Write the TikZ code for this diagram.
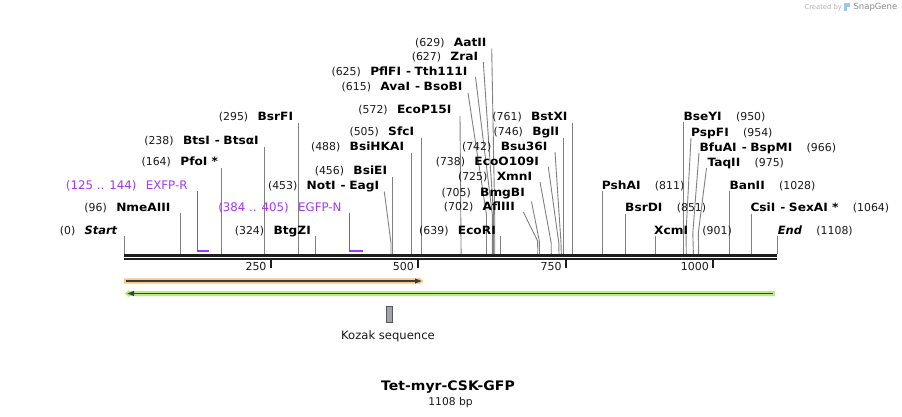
\documentclass[tikz,border=0pt]{standalone}
\usepackage{fontspec}
\setmainfont{DejaVu Sans}[BoldFeatures={FakeStretch=1.07},BoldItalicFeatures={FakeStretch=1.0}]
\definecolor{cutgray}{RGB}{128,128,128}
\definecolor{bbc}{RGB}{30,30,30}
\definecolor{primc}{RGB}{162,55,245}
\definecolor{orangef}{RGB}{250,200,125}
\definecolor{greenf}{RGB}{185,235,130}
\definecolor{featline}{RGB}{60,60,60}
\definecolor{kozakc}{RGB}{160,163,170}
\definecolor{snapblue}{RGB}{150,200,240}
\newcommand\EnzDash{\hspace{5pt}-\hspace{3.5pt}}
\newcommand\EnzL[5]{%
  \node[nm,anchor=base east] (#1) at (#2,#3) {#5};
  \node[num,anchor=base east] (#1n) at ([xshift=-9pt]#1.base west) {#4};}
\newcommand\EnzR[5]{%
  \node[nm,anchor=base west] (#1) at (#2,#3) {#4};
  \node[num,anchor=base west] (#1n) at ([xshift=14pt]#1.base east) {#5};}
\newcommand\VCut[3]{%
  \coordinate (#1t) at (#2,#3); \coordinate (#1c) at (#2,254);
  \draw[cutl] (#1t) -- (#1c);}
\newcommand\SCut[6]{%
  \coordinate (#1t) at (#2,#3); \coordinate (#1b) at (#4,#5); \coordinate (#1c) at (#6,254);
  \draw[cutl] (#1t) -- (#1b) -- (#1c);}
\begin{document}
\begin{tikzpicture}[x=1pt,y=-1pt,
  nm/.style={font=\fontsize{11.4}{13}\selectfont\bfseries,inner sep=0pt,text=black},
  num/.style={font=\fontsize{10.9}{13}\selectfont,inner sep=0pt,text=black!90},
  pnm/.style={font=\fontsize{11.8}{13}\selectfont,inner sep=0pt,text=primc},
  cutl/.style={draw=cutgray,line width=0.9pt},
  primline/.style={draw=primc,line width=1.2pt},
  ticklab/.style={font=\fontsize{11}{13}\selectfont,inner sep=0pt,text=black!90},
  bb/.style={fill=bbc}]
\fill[white] (0,0) rectangle (902,417);
\useasboundingbox (0,0) rectangle (902,417);

% ---------- cut lines ----------
\VCut{Start}{124.5}{236}
\VCut{NmeAIII}{180.6}{213.3}
\VCut{PfoI}{221}{168}
\VCut{BtsI}{264.3}{147}
\VCut{BsrFI}{298.3}{123}
\VCut{BtgZI}{315.2}{236}
\SCut{NotI}{384.3}{191.7}{391}{243}{391}
\VCut{BsiEI}{392.6}{176.5}
\VCut{BsiHKAI}{411.5}{153.5}
\VCut{SfcI}{421.5}{138}
\SCut{EcoPI}{460}{116}{461}{244}{461.1}
\SCut{AvaI}{468}{93}{486.5}{215}{486.5}
\SCut{PflFI}{475.5}{77}{492.4}{215}{492.4}
\SCut{ZraI}{483.3}{62}{493.6}{215}{493.6}
\SCut{AatII}{491.7}{48.5}{494.7}{215}{494.7}
\VCut{EcoRI}{500.6}{236}
\SCut{AflIII}{523.3}{212}{537.6}{241}{537.8}
\SCut{BmgBI}{531.5}{201.5}{539.3}{241}{539.5}
\SCut{XmnI}{540}{182}{551.2}{243}{551.3}
\SCut{EcoO}{548.3}{167}{558.8}{243}{559}
\SCut{Bsu}{555}{152}{561}{243}{561.3}
\VCut{BglI}{563.5}{138}
\VCut{BstXI}{572.6}{123}
\VCut{PshAI}{602}{191}
\VCut{BsrDI}{625.6}{213.5}
\VCut{XcmI}{655}{236}
\VCut{BseYI}{683.6}{122}
\SCut{PspFI}{691}{138}{686}{233}{686.3}
\SCut{BfuAI}{699}{153}{692.8}{233}{693.4}
\SCut{TaqII}{706.5}{168}{698.3}{233}{698.7}
\VCut{BanII}{729.7}{191}
\VCut{CsiI}{751}{213.5}
\VCut{End}{777}{236}

% ---------- primers ----------
\coordinate (EXFPt) at (197.5,191);
\coordinate (EXFPc) at (197.5,251.5);
\draw[primline] (EXFPt) -- (EXFPc);
\fill[primc] (196.9,249.8) rectangle (208.9,251.6);
\coordinate (EGFPt) at (349.6,212.7);
\coordinate (EGFPc) at (349.6,251.5);
\draw[primline] (EGFPt) -- (EGFPc);
\fill[primc] (349,249.8) rectangle (362.7,251.6);

% ---------- backbone ----------
\fill[bb] (124,254) rectangle (777,256.7);
\fill[bb] (124,258) rectangle (777,260.4);
\foreach \tx/\tl in {271/250,418.3/500,566/750,713.4/1000}{
  \fill[bb] (\tx-1,259) rectangle (\tx+1,267.5);
  \node[ticklab,anchor=base east] at (\tx-4.3,270.8) {\tl};
}

% ---------- left labels ----------
\EnzL{LStart}{117.7}{234}{(0)}{\textit{Start}}
\EnzL{LNme}{170.7}{211.3}{(96)}{NmeAIII}
\EnzL{LPfo}{218.3}{165.7}{(164)}{PfoI *}
\EnzL{LBts}{259}{144}{(238)}{BtsI\EnzDash BtsαI}
\EnzL{LBsrF}{293.3}{120.7}{(295)}{BsrFI}
\EnzL{LBtgZ}{311}{234}{(324)}{BtgZI}
\EnzL{LNot}{379.3}{189}{(453)}{NotI\EnzDash EagI}
\EnzL{LBsiE}{387.3}{174}{(456)}{BsiEI}
\EnzL{LBsiHK}{404.3}{150.7}{(488)}{BsiHKAI}
\EnzL{LSfc}{414.3}{135.7}{(505)}{SfcI}
\EnzL{LEcoP}{451.7}{114}{(572)}{EcoP15I}
\EnzL{LAva}{462.7}{90.7}{(615)}{AvaI\EnzDash BsoBI}
\EnzL{LPfl}{467.7}{75.7}{(625)}{PflFI\EnzDash Tth111I}
\EnzL{LZra}{478.3}{60.7}{(627)}{ZraI}
\EnzL{LAat}{486.7}{46.3}{(629)}{AatII}
\EnzL{LEcoR}{496}{234}{(639)}{EcoRI}
\EnzL{LAfl}{515}{210.7}{(702)}{AflIII}
\EnzL{LBmg}{525}{196.3}{(705)}{BmgBI}
\EnzL{LXmn}{532.3}{180.7}{(725)}{XmnI}
\EnzL{LEcoO}{539}{165.7}{(738)}{EcoO109I}
\EnzL{LBsu}{547.7}{150.7}{(742)}{Bsu36I}
\EnzL{LBgl}{559.3}{135.7}{(746)}{BglI}
\EnzL{LBstX}{567.7}{120.7}{(761)}{BstXI}

% ---------- right labels ----------
\EnzR{RPsh}{601.7}{189}{PshAI}{(811)}
\EnzR{RBsrD}{625}{211.3}{BsrDI}{(851)}
\EnzR{RXcm}{654}{234}{XcmI}{(901)}
\EnzR{RBseY}{683.3}{120.7}{BseYI}{(950)}
\EnzR{RPspF}{691}{136.3}{PspFI}{(954)}
\EnzR{RBfu}{699.3}{151.3}{BfuAI\EnzDash BspMI}{(966)}
\EnzR{RTaq}{707.3}{166.3}{TaqII}{(975)}
\EnzR{RBan}{729.3}{189}{BanII}{(1028)}
\EnzR{RCsi}{750.3}{211.3}{CsiI\EnzDash SexAI *}{(1064)}
\EnzR{REnd}{777.7}{234}{\textit{End}}{(1108)}

% ---------- primer labels ----------
\node[pnm,anchor=base east] (PEXFP) at (187.7,189) {EXFP-R};
\node[pnm,anchor=base east] (PEXFPn) at ([xshift=-9pt]PEXFP.base west) {(125 .. 144)};
\node[pnm,anchor=base east] (PEGFP) at (341.7,211) {EGFP-N};
\node[pnm,anchor=base east] (PEGFPn) at ([xshift=-9pt]PEGFP.base west) {(384 .. 405)};

% ---------- features ----------
\fill[orangef] (124,278.3) -- (419,278.3) -- (419,277.3) -- (423.5,281) -- (419,284.7) -- (419,283.7) -- (124,283.7) -- cycle;
\draw[featline,line width=1.8pt] (126,281) -- (416,281);
\fill[featline] (415,278.4) -- (421.5,281) -- (415,283.6) -- cycle;

\fill[greenf] (775,291) -- (129,291) -- (129,290) -- (124.5,293.5) -- (129,297) -- (129,296) -- (775,296) -- cycle;
\draw[featline,line width=1.8pt] (773,293.5) -- (133,293.5);
\fill[featline] (134,290.9) -- (127.3,293.5) -- (134,296.1) -- cycle;

\node[draw=black!65,fill=kozakc,line width=0.6pt,minimum width=6pt,minimum height=15.6pt,inner sep=0pt] (kozak) at (389.3,314.5) {};
\node[font=\fontsize{11.6}{13}\selectfont,inner sep=0pt,text=black!90] (kozaklab) at (388,336) {Kozak sequence};

% ---------- title ----------
\node[font=\fontsize{13.1}{15}\selectfont\bfseries,inner sep=0pt,anchor=base] (title) at (448,390.7) {Tet-myr-CSK-GFP};
\node[font=\fontsize{10.7}{12}\selectfont,inner sep=0pt,anchor=base,text=black!90] (size) at (450.5,405.5) {1108 bp};

% ---------- watermark ----------
\node[font=\fontsize{6.8}{8}\selectfont,inner sep=0pt,anchor=base west,text=black!30] (created) at (804.3,10) {Created by};
\fill[snapblue] (844,2.7) rectangle (850,6.8);
\fill[snapblue] (844,2.7) rectangle (846.6,11.2);
\node[font=\fontsize{8.5}{10}\selectfont,inner sep=0pt,anchor=base west,text=black!45] (snap) at (853.3,10) {SnapGene};
\end{tikzpicture}
\end{document}
